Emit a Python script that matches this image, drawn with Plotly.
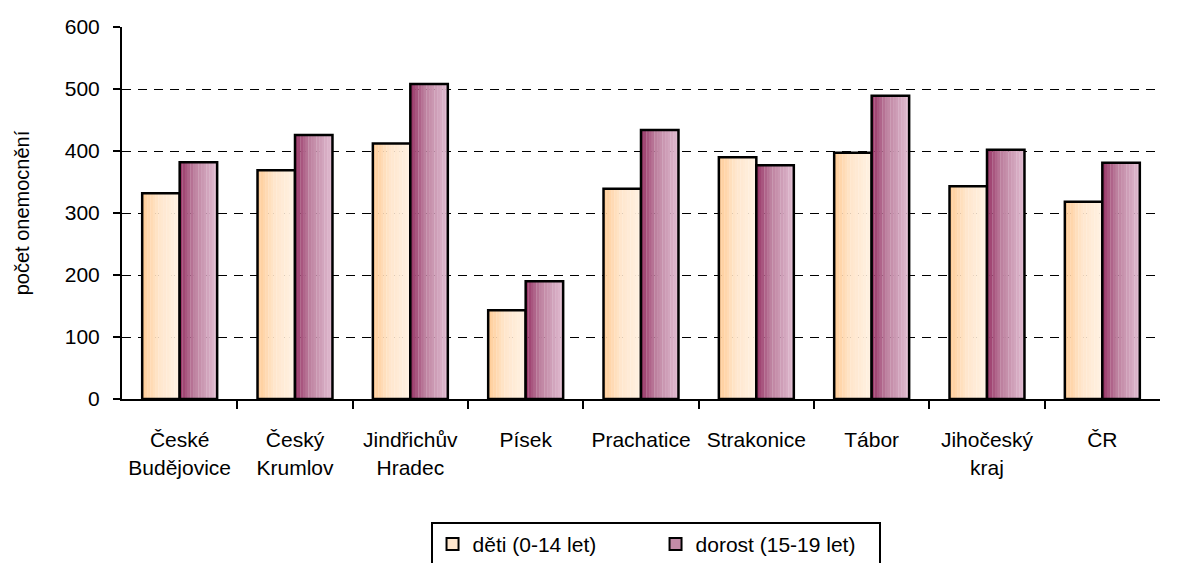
import plotly.graph_objects as go

categories = ["České<br>Budějovice", "Český<br>Krumlov", "Jindřichův<br>Hradec", "Písek",
              "Prachatice", "Strakonice", "Tábor", "Jihočeský<br>kraj", "ČR"]
deti = [332, 369, 412, 143, 339, 390, 397, 343, 318]
dorost = [382, 426, 508, 190, 434, 377, 489, 402, 381]
series_names = ["děti (0-14 let)", "dorost (15-19 let)"]

FONT = "Liberation Sans, Arial"

def lerp(c1, c2, t):
    return "rgb(%d,%d,%d)" % tuple(round(a + (b - a) * t) for a, b in zip(c1, c2))

grad = {
    0: [((255, 204, 150), 0.0), ((255, 230, 204), 0.45), ((255, 242, 228), 1.0)],
    1: [((150, 50, 100), 0.0), ((190, 130, 160), 0.4), ((225, 190, 210), 1.0)],
}

def color_at(stops, t):
    for (c1, t1), (c2, t2) in zip(stops, stops[1:]):
        if t <= t2:
            return lerp(c1, c2, (t - t1) / (t2 - t1) if t2 > t1 else 0)
    return lerp(stops[-1][0], stops[-1][0], 0)

W = 0.325
N = 14
fig = go.Figure()
x_idx = list(range(len(categories)))
for s, vals in enumerate([deti, dorost]):
    start = -W if s == 0 else 0.0
    for k in range(N):
        t = (k + 0.5) / N
        fig.add_trace(go.Bar(x=x_idx, y=vals, width=W / N + 0.002, offset=start + k * W / N,
                             marker=dict(color=color_at(grad[s], t), line=dict(width=0)),
                             showlegend=False, hoverinfo="skip"))
    fig.add_trace(go.Bar(x=x_idx, y=vals, width=W, offset=start,
                         marker=dict(color="rgba(0,0,0,0)", line=dict(color="black", width=2.5)),
                         showlegend=False, name=series_names[s]))
    fig.add_trace(go.Bar(x=x_idx, y=[None] * len(vals), name=series_names[s],
                         marker=dict(color=color_at(grad[s], 0.5), line=dict(color="black", width=2))))

fig.update_layout(
    barmode="overlay",
    width=1178, height=555,
    margin=dict(l=114, r=26, t=19, b=164),
    plot_bgcolor="white", paper_bgcolor="white",
    font=dict(family=FONT, size=21, color="black"),
    showlegend=True,
    legend=dict(orientation="h", x=0.514, xanchor="center", yref="container", y=0.074, yanchor="top",
                bordercolor="black", borderwidth=2, font=dict(size=21, family=FONT),
                itemwidth=30, entrywidth=178, traceorder="normal"),
)
fig.update_xaxes(
    tickmode="array", tickvals=x_idx, ticktext=categories,
    range=[-0.5, len(categories) - 0.5], automargin=False,
    showline=True, linecolor="black", linewidth=2,
    ticks="outside", ticklen=21, tickcolor="rgba(0,0,0,0)",
    showgrid=False, zeroline=False,
    minor=dict(tickmode="array", tickvals=[i + 0.5 for i in x_idx[:-1]], ticks="outside",
               ticklen=8, tickwidth=2, tickcolor="black", showgrid=False),
    tickfont=dict(size=21, family=FONT),
)
fig.update_yaxes(
    range=[0, 600], tickvals=[0, 100, 200, 300, 400, 500, 600], automargin=False,
    showline=True, linecolor="black", linewidth=2,
    ticks="outside", ticklen=7, tickwidth=2, tickcolor="black", ticklabelstandoff=9,
    showgrid=True, gridcolor="black", griddash="9px,7px", gridwidth=1,
    zeroline=False,
    title=dict(text="počet onemocnění", font=dict(size=20, family=FONT), standoff=30),
    tickfont=dict(size=21, family=FONT),
)
fig.write_html("out.html")
